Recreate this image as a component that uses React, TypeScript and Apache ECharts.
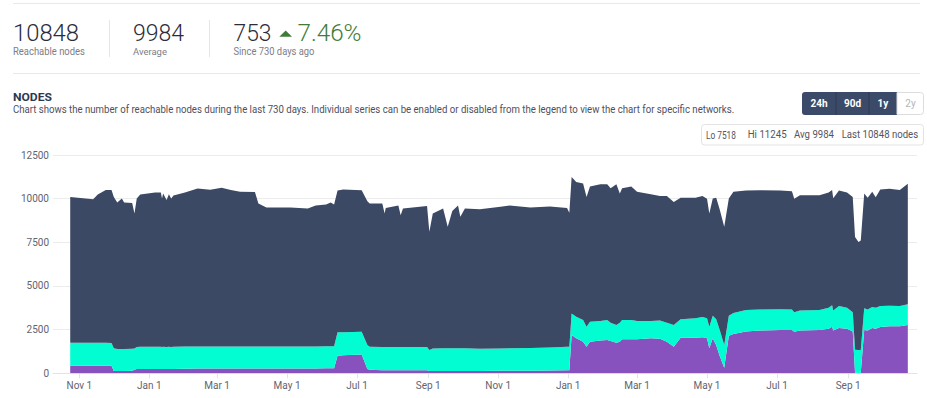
import React, { useEffect, useRef } from "react";
import * as echarts from "echarts";

// ---- data ----
const dates = [
  "2022-10-24", "2022-11-13", "2022-11-17", "2022-11-24", "2022-11-29", "2022-12-01", "2022-12-04", "2022-12-08",
  "2022-12-10", "2022-12-17", "2022-12-19", "2022-12-21", "2022-12-24", "2023-01-06", "2023-01-11", "2023-01-12",
  "2023-01-13", "2023-01-16", "2023-01-18", "2023-01-20", "2023-01-22", "2023-02-01", "2023-02-12", "2023-02-23",
  "2023-03-05", "2023-03-13", "2023-03-21", "2023-04-03", "2023-04-06", "2023-04-13", "2023-05-04", "2023-05-19",
  "2023-05-26", "2023-06-04", "2023-06-08", "2023-06-11", "2023-06-14", "2023-06-19", "2023-07-05", "2023-07-10",
  "2023-07-12", "2023-07-23", "2023-07-25", "2023-07-26", "2023-08-06", "2023-08-08", "2023-08-10", "2023-08-31",
  "2023-09-02", "2023-09-05", "2023-09-14", "2023-09-18", "2023-09-22", "2023-09-27", "2023-09-29", "2023-10-03",
  "2023-10-16", "2023-11-03", "2023-11-11", "2023-11-29", "2023-12-16", "2023-12-31", "2024-01-02", "2024-01-04",
  "2024-01-08", "2024-01-14", "2024-01-17", "2024-01-20", "2024-01-29", "2024-02-04", "2024-02-07", "2024-02-12",
  "2024-02-15", "2024-02-17", "2024-02-25", "2024-03-01", "2024-03-13", "2024-03-21", "2024-03-27", "2024-04-02",
  "2024-04-08", "2024-04-21", "2024-04-27", "2024-05-01", "2024-05-03", "2024-05-06", "2024-05-09", "2024-05-12",
  "2024-05-16", "2024-05-20", "2024-05-24", "2024-06-04", "2024-06-16", "2024-07-04", "2024-07-14", "2024-07-16",
  "2024-07-21", "2024-08-07", "2024-08-15", "2024-08-18", "2024-08-19", "2024-08-24", "2024-08-31", "2024-09-05",
  "2024-09-07", "2024-09-10", "2024-09-12", "2024-09-15", "2024-09-18", "2024-09-22", "2024-09-25", "2024-09-29",
  "2024-10-07", "2024-10-16", "2024-10-23",
];

const onionNodes = [
  435, 435, 435, 435, 430, 130, 130, 130, 130, 140, 200, 240, 245, 250, 250, 245,
  250, 245, 250, 245, 250, 260, 270, 270, 280, 280, 280, 280, 275, 275, 270, 280,
  280, 285, 285, 290, 1010, 1040, 1080, 250, 200, 170, 170, 170, 170, 170, 170, 170,
  130, 130, 130, 130, 130, 130, 130, 130, 130, 140, 140, 150, 160, 170, 170, 2190,
  2000, 1800, 1520, 1800, 1880, 1900, 1850, 1750, 1800, 1950, 1950, 1950, 2000, 1980, 1800, 1520,
  2040, 2040, 2060, 2000, 1430, 2000, 1600, 1000, 320, 2150, 2250, 2400, 2450, 2480, 2480, 2380,
  2450, 2480, 2550, 2670, 2450, 2600, 2550, 2400, 30, 20, 30, 2480, 2450, 2600, 2550, 2650,
  2700, 2700, 2770,
];

const ipv6Nodes = [
  1315, 1315, 1315, 1315, 1310, 1300, 1260, 1260, 1260, 1260, 1220, 1260, 1275, 1270, 1270, 1255,
  1270, 1255, 1270, 1255, 1270, 1270, 1270, 1270, 1260, 1260, 1260, 1260, 1255, 1255, 1260, 1260,
  1260, 1260, 1260, 1255, 1335, 1310, 1300, 1370, 1320, 1330, 1330, 1330, 1330, 1330, 1330, 1330,
  1200, 1290, 1300, 1300, 1300, 1300, 1300, 1300, 1270, 1280, 1290, 1300, 1320, 1350, 1350, 1240,
  1240, 1250, 1150, 1150, 1120, 1150, 1050, 1010, 1100, 1100, 1100, 1050, 1000, 1040, 1100, 1240,
  1060, 1110, 1160, 1150, 1240, 1300, 1500, 1500, 1300, 1150, 1200, 1220, 1200, 1190, 1180, 1120,
  1150, 1140, 1200, 1230, 1150, 1250, 1200, 1100, 1320, 1310, 1310, 1240, 1200, 1200, 1200, 1200,
  1170, 1150, 1180,
];

const ipv4Nodes = [
  8350, 8220, 8490, 8750, 8760, 8670, 8390, 8620, 8390, 8350, 7730, 8510, 8720, 8830, 8830, 8510,
  8780, 8420, 8730, 8510, 8660, 8820, 9040, 8970, 9080, 8960, 8850, 8840, 8190, 7970, 7970, 7900,
  8070, 8125, 8235, 8125, 8125, 8175, 8100, 8235, 8200, 8220, 7650, 7960, 8110, 7550, 7940, 8080,
  6770, 7730, 8010, 6960, 7870, 8180, 7530, 8010, 8000, 8110, 8180, 8050, 8070, 7950, 7680, 7815,
  7720, 7820, 7430, 7750, 7820, 7770, 7700, 8060, 7400, 7550, 7650, 7390, 7250, 7130, 7250, 7055,
  6950, 6900, 6930, 6850, 6480, 6710, 6950, 6900, 6770, 6710, 6940, 6850, 6830, 6800, 6760, 6500,
  6600, 6580, 6600, 6600, 6420, 6620, 6600, 6600, 6450, 6188, 6260, 6580, 6400, 6600, 6330, 6675,
  6700, 6650, 6898,
];

const seriesNames = [".onion", "IPv6", "IPv4"];
const seriesColors = ["#8752bd", "#03fdd3", "#3c4965"];

const yTicks = [0, 2500, 5000, 7500, 10000, 12500];
const xTickDates = [
  "2022-11-01", "2023-01-01", "2023-03-01", "2023-05-01", "2023-07-01", "2023-09-01",
  "2023-11-01", "2024-01-01", "2024-03-01", "2024-05-01", "2024-07-01", "2024-09-01",
];
const monthNames = ["Jan", "Feb", "Mar", "Apr", "May", "Jun", "Jul", "Aug", "Sep", "Oct", "Nov", "Dec"];
const axisRange = ["2022-10-09", "2024-10-31"];

const reachableNodes = 10848;
const averageNodes = 9984;
const changeNodes = 753;
const changePct = "7.46%";
const periodDays = 730;
const loNodes = 7518;
const hiNodes = 11245;
const rangeButtons = ["24h", "90d", "1y", "2y"];

// ---- helpers ----
const FONT = '"Roboto", "Noto Sans", sans-serif';
const W = 927;
const H = 398;

function toTs(s: string): number {
  const [y, m, d] = s.split("-").map(Number);
  return new Date(y, m - 1, d).getTime();
}

let measureCtx: CanvasRenderingContext2D | null = null;
function measure(text: string, font: string): number {
  if (!measureCtx) measureCtx = document.createElement("canvas").getContext("2d");
  if (!measureCtx) return 0;
  measureCtx.font = font;
  return measureCtx.measureText(text).width;
}

function txt(
  text: string,
  x: number,
  cy: number,
  size: number,
  weight: number | string,
  color: string,
  target?: number,
  align: "left" | "center" = "left"
) {
  const font = `${weight} ${size}px ${FONT}`;
  let sx = 1;
  if (target) {
    const w = measure(text, font);
    if (w > 0) sx = target / w;
  }
  return {
    type: "text",
    x,
    y: cy,
    scaleX: sx,
    silent: true,
    style: {
      text,
      x: 0,
      y: 0,
      fill: color,
      font,
      textAlign: align,
      textVerticalAlign: "middle",
      align,
      verticalAlign: "middle",
    },
  };
}

function hline(x1: number, x2: number, y: number, color: string) {
  return { type: "line", silent: true, shape: { x1, y1: y, x2, y2: y }, style: { stroke: color, lineWidth: 1 } };
}
function vline(x: number, y1: number, y2: number, color: string) {
  return { type: "line", silent: true, shape: { x1: x, y1, x2: x, y2 }, style: { stroke: color, lineWidth: 1 } };
}

export default function App() {
  const ref = useRef<HTMLDivElement>(null);

  useEffect(() => {
    document.body.style.margin = "0";
    if (!ref.current) return;
    const chart = echarts.init(ref.current, null, { renderer: "svg", width: W, height: H });

    const dark = "#2b2d3a";
    const grey = "#7d7d86";
    const green = "#3f7c3a";
    const navy = "#3b4a69";

    const graphics: any[] = [
      hline(13, 920, 3.5, "#e9e9e9"),
      // stats
      txt(String(reachableNodes), 13, 33, 24, 300, dark, 66),
      txt("Reachable nodes", 13, 51.5, 10, 400, grey, 72),
      vline(109.5, 20, 57, "#e6e6e6"),
      txt(String(averageNodes), 133, 33, 24, 300, dark, 51),
      txt("Average", 133, 51.5, 10, 400, grey, 34),
      vline(209.5, 20, 57, "#e6e6e6"),
      txt(String(changeNodes), 233.5, 33, 24, 300, dark, 38),
      {
        type: "polygon",
        silent: true,
        shape: { points: [[279.3, 36.8], [285.7, 30.6], [292, 36.8]] },
        style: { fill: green },
      },
      txt(changePct, 297.5, 33, 24, 300, green, 64),
      txt(`Since ${periodDays} days ago`, 233.5, 51.5, 10, 400, grey, 81),
      hline(13, 920, 73.5, "#e9e9e9"),
      // title
      txt("NODES", 13, 97, 11, 700, "#2c3950", 39),
      txt(
        `Chart shows the number of reachable nodes during the last ${periodDays} days. Individual series can be enabled or disabled from the legend to view the chart for specific networks.`,
        13,
        109.3,
        10,
        400,
        "#4f4f5e",
        723
      ),
      // buttons
      {
        type: "rect",
        silent: true,
        shape: { x: 802, y: 92, width: 95, height: 23, r: [3, 0, 0, 3] },
        style: { fill: navy },
      },
      {
        type: "rect",
        silent: true,
        shape: { x: 897, y: 92.5, width: 26.5, height: 22, r: [0, 3, 3, 0] },
        style: { fill: "#ffffff", stroke: "#dcdcdc", lineWidth: 1 },
      },
      vline(836, 92, 115, "#2e3a54"),
      vline(869, 92, 115, "#2e3a54"),
      txt(rangeButtons[0], 819, 103.5, 10, 700, "#ffffff", 0, "center"),
      txt(rangeButtons[1], 852.5, 103.5, 10, 700, "#ffffff", 0, "center"),
      txt(rangeButtons[2], 883, 103.5, 10, 700, "#ffffff", 0, "center"),
      txt(rangeButtons[3], 910.5, 103.5, 10, 400, "#b4b4b4", 0, "center"),
      // info box
      {
        type: "rect",
        silent: true,
        shape: { x: 701.5, y: 124.5, width: 222, height: 20.5, r: 3 },
        style: { fill: "#ffffff", stroke: "#e3e3e3", lineWidth: 1 },
      },
      txt(`Lo ${loNodes}`, 706, 134.8, 10, 400, "#555560", 30),
      txt(`Hi ${hiNodes}`, 747.7, 134.8, 10, 400, "#555560", 39),
      txt(`Avg ${averageNodes}`, 794, 134.8, 10, 400, "#555560", 40),
      txt(`Last ${reachableNodes} nodes`, 841.7, 134.8, 10, 400, "#555560", 76.5),
    ];

    const seriesData = [onionNodes, ipv6Nodes, ipv4Nodes];
    const tickTs = xTickDates.map(toTs);
    const xMin = toTs(axisRange[0]);
    const xMax = toTs(axisRange[1]);

    const option: any = {
      animation: false,
      backgroundColor: "#ffffff",
      textStyle: { fontFamily: FONT },
      grid: { left: 53, right: 10, top: 155, bottom: 398 - 373.3, containLabel: false },
      xAxis: [
        {
          // data axis (time scale) for the stacked areas
          type: "time",
          position: "bottom",
          min: xMin,
          max: xMax,
          axisLine: { show: true, lineStyle: { color: "#e3e3e3", width: 1 } },
          axisTick: { show: false },
          axisLabel: { show: false },
          splitLine: { show: false },
        },
        {
          // same range, used only to place the month ticks and labels
          type: "value",
          position: "bottom",
          min: xMin,
          max: xMax,
          axisLine: { show: false },
          axisTick: {
            show: true,
            customValues: tickTs,
            length: 5,
            lineStyle: { color: "#e3e3e3" },
          },
          axisLabel: {
            customValues: tickTs,
            formatter: (v: number) => {
              const d = new Date(v);
              return `${monthNames[d.getMonth()]} ${d.getDate()}`;
            },
            color: "#5f6470",
            fontSize: 10,
            fontFamily: FONT,
            margin: 7,
            hideOverlap: false,
          },
          splitLine: { show: false },
        },
      ],
      yAxis: {
        type: "value",
        min: yTicks[0],
        max: yTicks[yTicks.length - 1],
        interval: yTicks[1] - yTicks[0],
        axisLine: { show: false },
        axisTick: { show: false },
        axisLabel: {
          color: "#5f6470",
          fontSize: 10,
          fontFamily: FONT,
          margin: 4,
          formatter: (v: number) => String(v),
        },
        splitLine: { show: true, lineStyle: { color: "#ececec", width: 1 } },
      },
      series: seriesNames.map((name, i) => ({
        name,
        type: "line",
        xAxisIndex: 0,
        yAxisIndex: 0,
        stack: "nodes",
        symbol: "none",
        showSymbol: false,
        smooth: false,
        color: seriesColors[i],
        lineStyle: { width: 0, color: seriesColors[i] },
        areaStyle: { color: seriesColors[i], opacity: 1 },
        data: dates.map((d, j) => [toTs(d), seriesData[i][j]]),
        z: 2,
      })),
      graphic: { elements: graphics },
    };

    chart.setOption(option);
    return () => chart.dispose();
  }, []);

  return <div ref={ref} style={{ width: W, height: H }} />;
}
